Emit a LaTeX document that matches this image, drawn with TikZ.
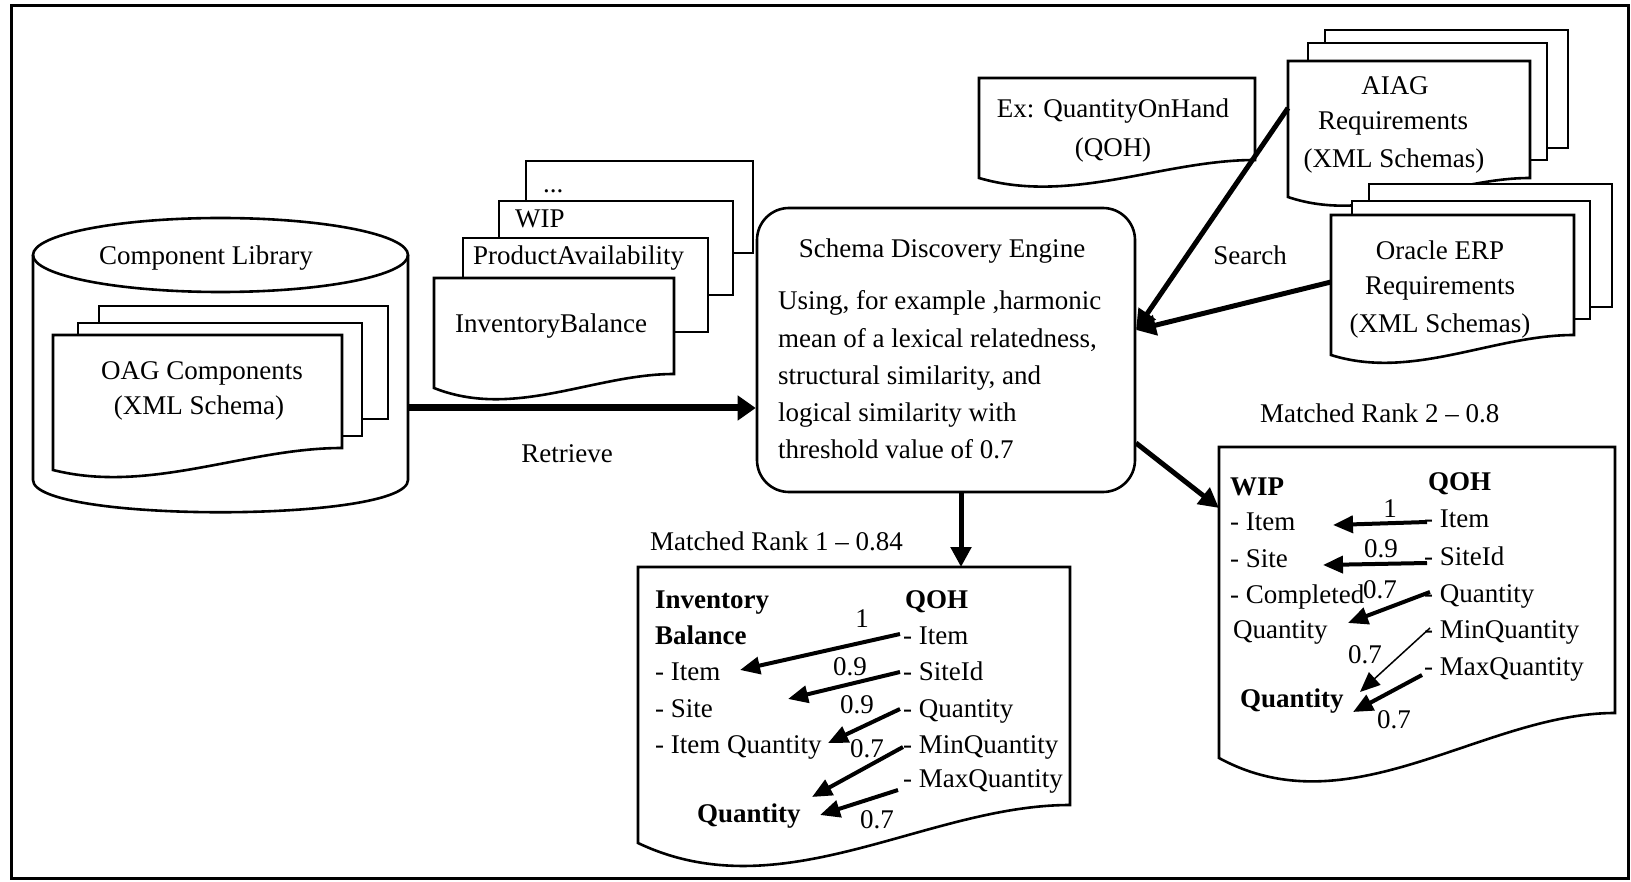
\documentclass[tikz,border=0pt]{standalone}
\usepackage{fontspec}
\setmainfont{Liberation Serif}
\usetikzlibrary{arrows.meta,calc}
\newcommand{\docshape}[6]{%
  \pgfmathsetmacro\dshW{#3-#1}%
  \pgfmathsetmacro\dshXa{#1+\dshW/3}%
  \pgfmathsetmacro\dshXb{#1+2*\dshW/3}%
  \pgfmathsetmacro\dshYa{(#6-0.343*#4-0.216*#5)/0.441}%
  \draw[shapeline,fill=white] (#1,#2) -- (#3,#2) -- (#3,#5) .. controls (\dshXb,#5) and (\dshXa,\dshYa) .. (#1,#4) -- cycle;%
}
\begin{document}
\begin{tikzpicture}[x=1pt,y=-1pt,
  shapeline/.style={line width=2.6pt, line join=miter},
  txt/.style={inner sep=0pt, font=\fontsize{27}{37}\selectfont},
  btxt/.style={inner sep=0pt, font=\fontsize{27}{37}\selectfont\bfseries},
  bigarrow/.style={line width=7pt, -{Triangle[length=18pt,width=24pt]}},
  midarrow/.style={line width=5pt, -{Triangle[length=20pt,width=20pt]}},
  smallarrow/.style={line width=4pt, -{Triangle[length=20pt,width=17pt]}},
  thinarrow/.style={line width=1.5pt, -{Triangle[length=20pt,width=17pt]}}]
\useasboundingbox (0,0) rectangle (1631,882);
\draw[line width=3pt] (11,6) rectangle (1628,878);

% Component library cylinder
\draw[shapeline, fill=white] (33,255) -- (33,480) .. controls (33,523) and (408,523) .. (408,480) -- (408,255);
\draw[shapeline] (220.5,255) ellipse [x radius=187.5, y radius=37];
\node[txt, anchor=base] (complib) at (206,265) {Component Library};
\draw[shapeline,fill=white] (99,306) rectangle (388,419);
\draw[shapeline,fill=white] (78,323) rectangle (362,436);
\docshape{53}{335}{342}{470}{448}{476}
\node[txt, anchor=base] (oag1) at (202,380) {OAG Components};
\node[txt, anchor=base] (oag2) at (199,415) {(XML Schema)};

% Inventory stack
\draw[shapeline,fill=white] (526,161) rectangle (753,253);
\draw[shapeline,fill=white] (499,201) rectangle (733,295);
\draw[shapeline,fill=white] (463,238) rectangle (708,332);
\docshape{434}{278}{674}{388}{374}{399}
\node[txt, anchor=base west] (dots) at (543,193) {...};
\node[txt, anchor=base west] (wipdoc) at (515,228) {WIP};
\node[txt, anchor=base west] (padoc) at (473,265) {ProductAvailability};
\node[txt, anchor=base west] (ibdoc) at (455,333) {InventoryBalance};

% Engine
\node[shapeline, draw, fill=white, rounded corners=32pt, minimum width=378pt, minimum height=284pt, inner sep=0pt] (engine) at (946,350) {};
\node[txt, anchor=base] (engtitle) at (942,258) {Schema Discovery Engine};
\node[txt, anchor=base west] (eng1) at (778,310) {Using, for example ,harmonic};
\node[txt, anchor=base west] (eng2) at (778,348) {mean of a lexical relatedness,};
\node[txt, anchor=base west] (eng3) at (778,385) {structural similarity, and};
\node[txt, anchor=base west] (eng4) at (778,422) {logical similarity with};
\node[txt, anchor=base west] (eng5) at (778,458) {threshold value of 0.7};

% Ex doc
\docshape{979}{78}{1255}{178}{160}{186}
\node[txt, anchor=base] (ex1) at (1113,118) {Ex: QuantityOnHand};
\node[txt, anchor=base] (ex2) at (1113,157) {(QOH)};

% AIAG stack
\draw[shapeline,fill=white] (1325,30) rectangle (1568,148);
\draw[shapeline,fill=white] (1308,43) rectangle (1547,160);
\docshape{1288}{61}{1530}{197}{178}{205}
\node[txt, anchor=base] (aiag1) at (1395,95) {AIAG};
\node[txt, anchor=base] (aiag2) at (1393,130) {Requirements};
\node[txt, anchor=base] (aiag3) at (1394,168) {(XML Schemas)};

% Oracle stack
\draw[shapeline,fill=white] (1369,184) rectangle (1612,307);
\draw[shapeline,fill=white] (1352,201) rectangle (1590,319);
\docshape{1331}{215}{1574}{355}{335}{362}
\node[txt, anchor=base] (ora1) at (1440,260) {Oracle ERP};
\node[txt, anchor=base] (ora2) at (1440,295) {Requirements};
\node[txt, anchor=base] (ora3) at (1440,333) {(XML Schemas)};

% Rank documents
\docshape{638}{567}{1070}{843}{805}{865}
\docshape{1219}{447}{1615}{758}{713}{780}

% Main connectors
\coordinate (cylR) at (408,408);
\draw[bigarrow] (cylR) -- (cylR -| engine.west);
\node[txt, anchor=base] (retrieve) at (567,462) {Retrieve};
\coordinate (r1top) at (961,567);
\draw[midarrow] (engine.south -| r1top) -- (r1top);
\coordinate (engR) at (1136,443);
\coordinate (r2L) at (1219,508);
\draw[midarrow] (engR) -- (r2L);
\coordinate (engS) at (1136,330);
\coordinate (aiagL) at (1288,108);
\coordinate (oraL) at (1331,282);
\draw[midarrow] (aiagL) -- (engS);
\draw[midarrow] (oraL) -- (engS);
\node[txt, anchor=base] (search) at (1250,265) {Search};

% Rank 1
\node[txt, anchor=base west] (rank1) at (650,550) {Matched Rank 1 – 0.84};
\node[btxt, anchor=base west] (r1h1) at (655,608) {Inventory};
\node[btxt, anchor=base west] (r1h2) at (655,644) {Balance};
\node[txt, anchor=base west] (r1l1) at (655,680) {- Item};
\node[txt, anchor=base west] (r1l2) at (655,717) {- Site};
\node[txt, anchor=base west] (r1l3) at (655,753) {- Item Quantity};
\node[btxt, anchor=base west] (r1l4) at (697,822) {Quantity};
\node[btxt, anchor=base west] (r1qoh) at (905,608) {QOH};
\node[txt, anchor=base west] (r1q1) at (903,644) {- Item};
\node[txt, anchor=base west] (r1q2) at (903,680) {- SiteId};
\node[txt, anchor=base west] (r1q3) at (903,717) {- Quantity};
\node[txt, anchor=base west] (r1q4) at (903,753) {- MinQuantity};
\node[txt, anchor=base west] (r1q5) at (903,787) {- MaxQuantity};
\node[txt, anchor=base] (r1n1) at (862,627) {1};
\node[txt, anchor=base] (r1n2) at (850,675) {0.9};
\node[txt, anchor=base] (r1n3) at (857,713) {0.9};
\node[txt, anchor=base] (r1n4) at (867,757) {0.7};
\node[txt, anchor=base] (r1n5) at (877,828) {0.7};
\coordinate (r1a1s) at (900,634); \coordinate (r1a1e) at (740,670);
\coordinate (r1a2s) at (900,672); \coordinate (r1a2e) at (788,699);
\coordinate (r1a3s) at (900,709); \coordinate (r1a3e) at (828,743);
\coordinate (r1a4s) at (903,747); \coordinate (r1a4e) at (812,797);
\coordinate (r1a5s) at (898,790); \coordinate (r1a5e) at (820,815);
\draw[smallarrow] (r1a1s) -- (r1a1e);
\draw[smallarrow] (r1a2s) -- (r1a2e);
\draw[smallarrow] (r1a3s) -- (r1a3e);
\draw[smallarrow] (r1a4s) -- (r1a4e);
\draw[smallarrow] (r1a5s) -- (r1a5e);

% Rank 2
\node[txt, anchor=base west] (rank2) at (1260,423) {Matched Rank 2 – 0.8};
\node[btxt, anchor=base west] (r2h1) at (1230,495) {WIP};
\node[txt, anchor=base west] (r2l1) at (1230,530) {- Item};
\node[txt, anchor=base west] (r2l2) at (1230,567) {- Site};
\node[txt, anchor=base west] (r2l3) at (1230,603) {- Completed};
\node[txt, anchor=base west] (r2l4) at (1233,638) {Quantity};
\node[btxt, anchor=base west] (r2l5) at (1240,707) {Quantity};
\node[btxt, anchor=base west] (r2qoh) at (1428,490) {QOH};
\node[txt, anchor=base west] (r2q1) at (1424,527) {- Item};
\node[txt, anchor=base west] (r2q2) at (1424,565) {- SiteId};
\node[txt, anchor=base west] (r2q3) at (1424,602) {- Quantity};
\node[txt, anchor=base west] (r2q4) at (1424,638) {- MinQuantity};
\node[txt, anchor=base west] (r2q5) at (1424,675) {- MaxQuantity};
\node[txt, anchor=base] (r2n1) at (1390,517) {1};
\node[txt, anchor=base] (r2n2) at (1381,557) {0.9};
\node[txt, anchor=base] (r2n3) at (1380,598) {0.7};
\node[txt, anchor=base] (r2n4) at (1365,663) {0.7};
\node[txt, anchor=base] (r2n5) at (1394,728) {0.7};
\coordinate (r2a1s) at (1427,522); \coordinate (r2a1e) at (1333,525);
\coordinate (r2a2s) at (1427,563); \coordinate (r2a2e) at (1323,565);
\coordinate (r2a3s) at (1430,592); \coordinate (r2a3e) at (1348,623);
\coordinate (r2a4s) at (1430,628); \coordinate (r2a4e) at (1360,692);
\coordinate (r2a5s) at (1422,675); \coordinate (r2a5e) at (1353,712);
\draw[smallarrow] (r2a1s) -- (r2a1e);
\draw[smallarrow] (r2a2s) -- (r2a2e);
\draw[smallarrow] (r2a3s) -- (r2a3e);
\draw[thinarrow] (r2a4s) -- (r2a4e);
\draw[smallarrow] (r2a5s) -- (r2a5e);
\end{tikzpicture}
\end{document}
